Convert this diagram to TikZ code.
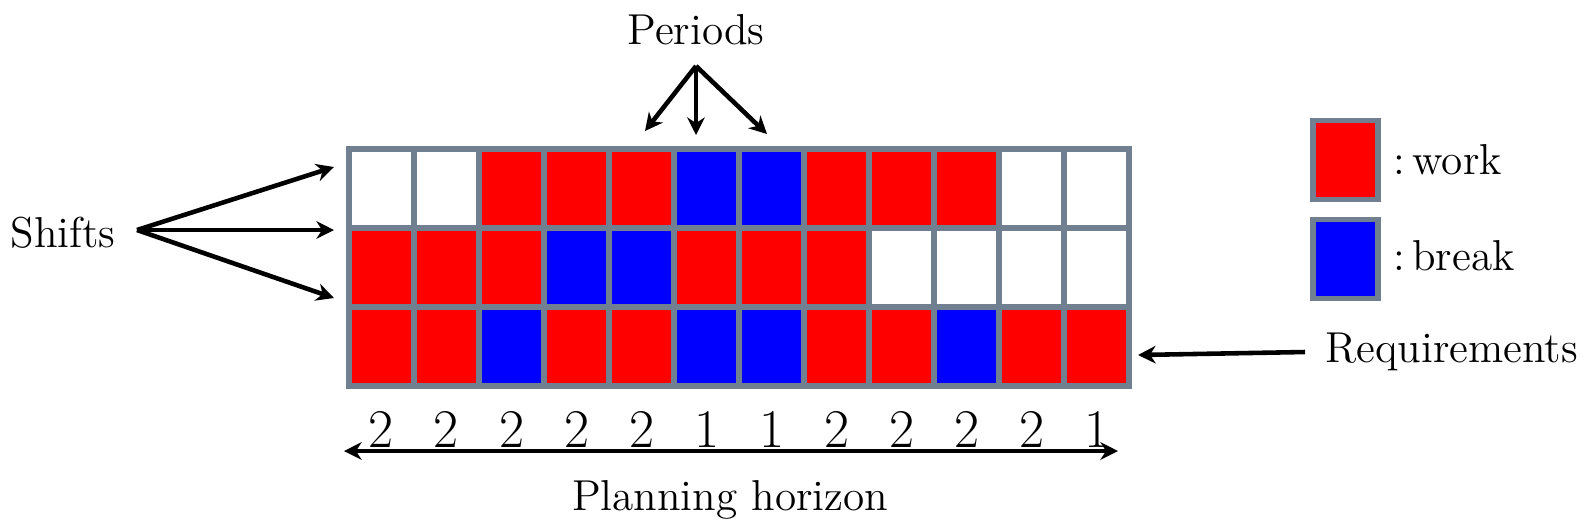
\documentclass[tikz,border=0pt]{standalone}
\usepackage{tikz}
\usetikzlibrary{arrows.meta}

\definecolor{gridgray}{RGB}{112,128,144}

\begin{document}
\begin{tikzpicture}[x=0.01cm, y=-0.01cm,
   lbl/.style={font=\fontsize{12.3}{15}\selectfont},
   num/.style={font=\fontsize{15.5}{18}\selectfont, inner sep=0pt},
   arr/.style={-{Stealth[length=5pt,width=5pt,inset=1.6pt]}, line width=1.3pt},
   cell/.style={draw=gridgray, line width=1.5pt, minimum width=0.65cm, minimum height=0.79cm, inner sep=0pt},
   cellW/.style={cell, fill=white},
   cellR/.style={cell, fill=red},
   cellB/.style={cell, fill=blue}]
\useasboundingbox (0,0) rectangle (1586,529);
% shifts x periods
\foreach \row [count=\r] in {{W,W,R,R,R,B,B,R,R,R,W,W},
                             {R,R,R,B,B,R,R,R,W,W,W,W},
                             {R,R,B,R,R,B,B,R,R,B,R,R}}
  \foreach \x [count=\c] in \row
    \node[cell\x] (c\r-\c) at (316.5+65*\c, 109.5+79*\r) {};
% requirements per period
\foreach \n [count=\c] in {2,2,2,2,2,1,1,2,2,2,2,1}
  \node[num, anchor=base] (n\c) at (316.5+65*\c, 447) {\n};
% legend
\node[cellR] (kw) at (1345.5,160) {};
\node[cellB] (kb) at (1345.5,259) {};
\node[lbl, anchor=west] (tw) at (1381,160) {:\,work};
\node[lbl, anchor=west] (tb) at (1381,256) {:\,break};
% labels
\node[lbl] (shifts) at (63,233) {Shifts};
\node[lbl] (periods) at (696,30) {Periods};
\node[lbl, anchor=west] (req) at (1313,352) {Requirements};
\node[lbl] (plan) at (730,500) {Planning horizon};
\coordinate (sO) at (137,230);
\coordinate (s1) at (334,167);
\coordinate (s2) at (334,230);
\coordinate (s3) at (334,298);
\coordinate (pO) at (696,66);
\coordinate (p1) at (645,131);
\coordinate (p2) at (696,135);
\coordinate (p3) at (767,134);
\coordinate (rq0) at (1305,352);
\coordinate (rq1) at (1138,355);
\coordinate (hL) at (344,451);
\coordinate (hR) at (1118,451);
\draw[arr] (sO) -- (s1); \draw[arr] (sO) -- (s2); \draw[arr] (sO) -- (s3);
\draw[arr] (pO) -- (p1); \draw[arr] (pO) -- (p2); \draw[arr] (pO) -- (p3);
\draw[arr] (rq0) -- (rq1);
\draw[arr, {Stealth[length=5pt,width=5pt,inset=1.6pt]}-{Stealth[length=5pt,width=5pt,inset=1.6pt]}] (hL) -- (hR);
\end{tikzpicture}
\end{document}
